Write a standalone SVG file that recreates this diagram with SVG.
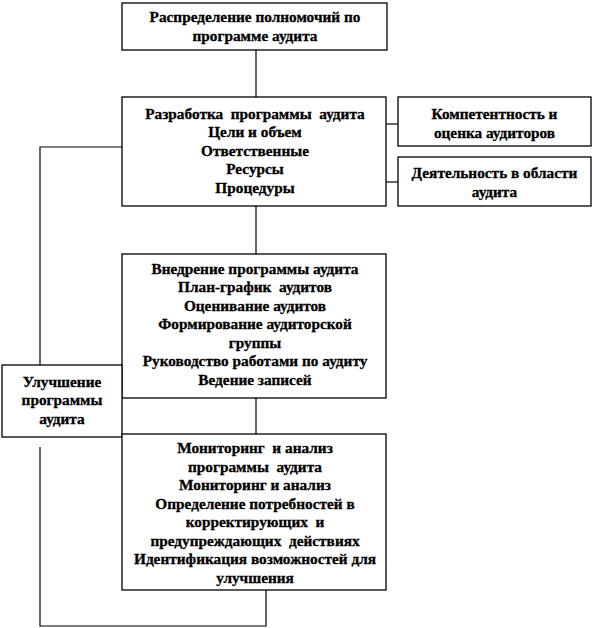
<svg xmlns="http://www.w3.org/2000/svg" width="594" height="628" viewBox="0 0 594 628">
<style>
rect{fill:#fff;stroke:#000;stroke-width:1.3}
text{font-family:'Liberation Serif','Times New Roman',serif;font-weight:700;font-size:15.3px;text-anchor:middle;fill:#000;stroke:#000;stroke-width:0.3;white-space:pre}
.c{fill:none;stroke:#000;stroke-width:1.2}
</style>
<rect x="0" y="0" width="594" height="628" style="stroke:none"/>
<g id="connectors">
<path class="c" d="M256 50V97"/>
<path class="c" d="M386 124H398"/>
<path class="c" d="M386 182H398"/>
<path class="c" d="M122 147H40V372"/>
<path class="c" d="M256 206V254"/>
<path class="c" d="M256 398V434"/>
<path class="c" d="M266 590V626H40V447"/>
</g>
<g id="n1">
<rect x="122" y="3" width="265" height="47"/>
<text x="255" y="22">Распределение полномочий по</text>
<text x="255" y="41">программе аудита</text>
</g>
<g id="n2">
<rect x="122" y="97" width="264" height="109"/>
<text x="255" y="119" xml:space="preserve">Разработка  программы  аудита</text>
<text x="255" y="137">Цели и объем</text>
<text x="255" y="156">Ответственные</text>
<text x="255" y="174">Ресурсы</text>
<text x="255" y="193">Процедуры</text>
</g>
<g id="n3">
<rect x="398" y="97" width="193" height="49"/>
<text x="494.5" y="119">Компетентность и</text>
<text x="494.5" y="138">оценка аудиторов</text>
</g>
<g id="n4">
<rect x="398" y="157" width="193" height="49"/>
<text x="494.5" y="178">Деятельность в области</text>
<text x="494.5" y="197">аудита</text>
</g>
<g id="n5">
<rect x="122" y="254" width="264" height="144"/>
<text x="255" y="274">Внедрение программы аудита</text>
<text x="255" y="292" xml:space="preserve">План-график  аудитов</text>
<text x="255" y="311">Оценивание аудитов</text>
<text x="255" y="329">Формирование аудиторской</text>
<text x="255" y="348">группы</text>
<text x="255" y="366">Руководство работами по аудиту</text>
<text x="255" y="385">Ведение записей</text>
</g>
<g id="n6">
<rect x="2" y="365" width="120" height="72"/>
<text x="62" y="387">Улучшение</text>
<text x="62" y="405">программы</text>
<text x="62" y="424">аудита</text>
</g>
<g id="n7">
<rect x="122" y="434" width="264" height="156"/>
<text x="255" y="453" xml:space="preserve">Мониторинг  и анализ</text>
<text x="255" y="472" xml:space="preserve">программы  аудита</text>
<text x="255" y="490">Мониторинг и анализ</text>
<text x="255" y="509">Определение потребностей в</text>
<text x="255" y="527" xml:space="preserve">корректирующих  и</text>
<text x="255" y="546" xml:space="preserve">предупреждающих  действиях</text>
<text x="255" y="564">Идентификация возможностей для</text>
<text x="255" y="583">улучшения</text>
</g>
</svg>
